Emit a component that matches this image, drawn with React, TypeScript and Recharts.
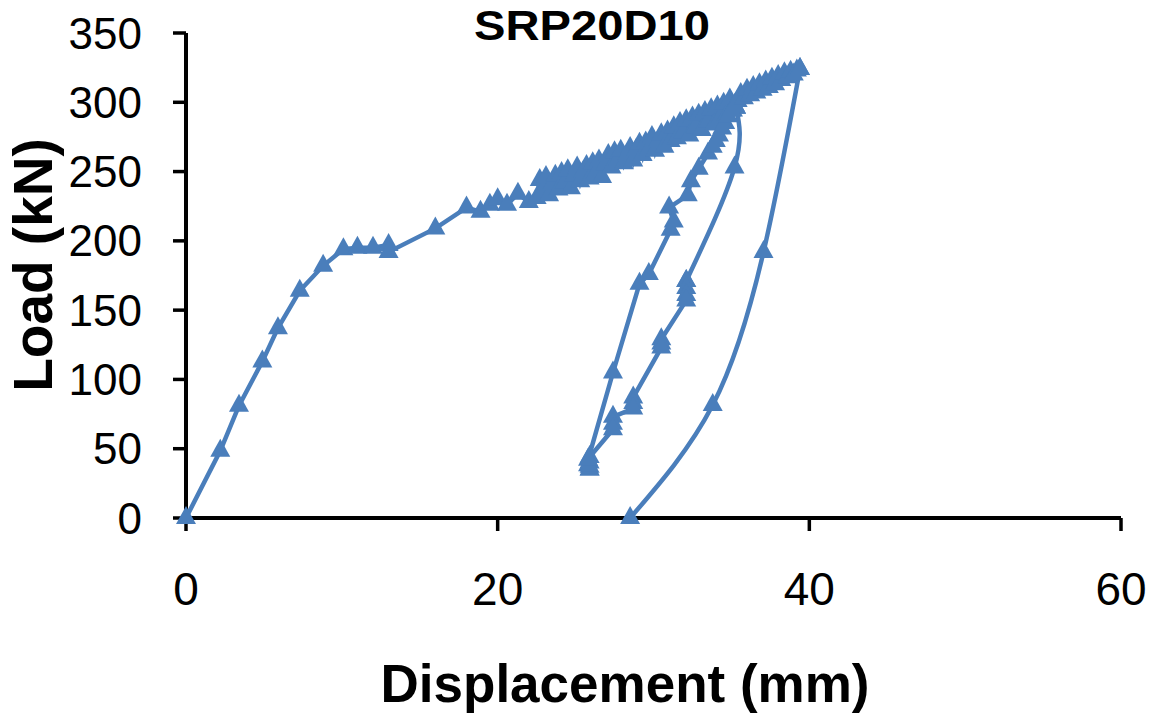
import { Line, LineChart, XAxis, YAxis } from "recharts";

const FONT = '"Liberation Sans", Arial, sans-serif';
const BLUE = "#4A7EBB";

// displacement (mm), load (kN)
const loading: [number, number][] = [
  [0, 0], [2.2, 48.5], [3.4, 81], [4.9, 113], [5.9, 137], [7.3, 164], [8.8, 182],
  [10.1, 194], [11.0, 195], [12.0, 195], [13.0, 197], [13.0, 192], [16.0, 209],
  [18.0, 224], [18.9, 221], [19.5, 226], [20.0, 230], [20.6, 226], [21.3, 234],
  [22.0, 228], [22.5, 231], [22.7, 244], [22.9, 236], [23.1, 246], [23.3, 233],
  [23.5, 241], [23.7, 247], [23.9, 237], [24.1, 249], [24.3, 242], [24.5, 251],
  [24.7, 238], [24.9, 247], [25.1, 253], [25.3, 243], [25.5, 250], [25.7, 254],
  [25.9, 245], [26.1, 256], [26.3, 249], [26.5, 258], [26.7, 246], [26.9, 255],
  [27.1, 262], [27.3, 253], [27.5, 264], [27.7, 258], [27.9, 265], [28.1, 256],
  [28.3, 262], [28.5, 267], [28.7, 258], [28.9, 266], [29.1, 270], [29.3, 262],
  [29.5, 271], [29.7, 266], [29.9, 275], [30.1, 265], [30.3, 272], [30.5, 277],
  [30.7, 268], [30.9, 279], [31.1, 272], [31.3, 282], [31.5, 274], [31.7, 285],
  [31.9, 278], [32.1, 287], [32.3, 276], [32.5, 289], [32.7, 282], [32.9, 291],
  [33.1, 280], [33.3, 293], [33.5, 286], [33.7, 295], [33.9, 284], [34.1, 297],
  [34.3, 289], [34.5, 299], [34.7, 291], [34.9, 302], [35.1, 294], [35.3, 296],
];

const unloading: [number, number][] = [
  [35.3, 296], [35.2, 253], [32.1, 171], [32.1, 166], [32.1, 161], [32.1, 157],
  [30.5, 129], [30.5, 126], [30.5, 123], [28.7, 87], [28.7, 83], [28.7, 79],
  [27.4, 73], [27.4, 68], [27.4, 64], [25.9, 44], [25.9, 40], [25.9, 37], [25.9, 35],
];

const reloading: [number, number][] = [
  [25.9, 35], [25.8, 38], [25.8, 42], [27.4, 105], [29.1, 169], [29.7, 176],
  [31.1, 208], [31.3, 214], [31.0, 224], [32.2, 233], [32.4, 243], [32.9, 252],
  [33.5, 263], [33.8, 268], [34.0, 272], [34.2, 276], [34.4, 281], [34.6, 285],
  [34.8, 290], [35.0, 294], [35.2, 298], [35.4, 301], [35.6, 306], [35.8, 303],
  [36.0, 309], [36.2, 305], [36.4, 311], [36.6, 307], [36.8, 313], [37.0, 309],
  [37.2, 315], [37.4, 311], [37.6, 317], [37.8, 313], [38.0, 319], [38.2, 316],
  [38.4, 321], [38.6, 318], [38.8, 322], [39.0, 320], [39.2, 323], [39.4, 324],
];

const finalUnloading: [number, number][] = [
  [39.4, 324], [37.06, 192], [33.8, 81.5], [28.5, 0],
];

const xTicks = [0, 20, 40, 60];
const yTicks = [0, 50, 100, 150, 200, 250, 300, 350];

const toPoints = (arr: [number, number][]) => arr.map(([x, y]) => ({ x, y }));

const triangle = (name: string) => (p: any) => {
  const { cx, cy, index } = p;
  if (cx == null || cy == null) return <g key={`${name}-${index}`} />;
  return (
    <polygon
      key={`${name}-${index}`}
      points={`${cx},${cy - 12} ${cx - 10},${cy + 6} ${cx + 10},${cy + 6}`}
      fill={BLUE}
      stroke="none"
    />
  );
};

const segments = [
  { name: "load", data: toPoints(loading), type: "linear" },
  { name: "unloadTop", data: toPoints(unloading.slice(0, 3)), type: "natural" },
  { name: "unload", data: toPoints(unloading.slice(2)), type: "linear" },
  { name: "reload", data: toPoints(reloading), type: "linear" },
  { name: "final", data: toPoints(finalUnloading), type: "natural" },
];

const YTitle = () => (
  <text
    x={52}
    y={265}
    transform="rotate(-90, 52, 265)"
    textAnchor="middle"
    fontFamily={FONT}
    fontWeight="bold"
    fontSize={55}
    fill="#000"
  >
    Load (kN)
  </text>
);

const XTitle = () => (
  <text
    x={625}
    y={702}
    textAnchor="middle"
    fontFamily={FONT}
    fontWeight="bold"
    fontSize={53}
    fill="#000"
  >
    Displacement (mm)
  </text>
);

export default function App() {
  return (
    <div style={{ position: "absolute", left: 0, top: 0, width: 1163, height: 717, background: "#fff" }}>
      <LineChart width={1163} height={717} margin={{ top: 33, right: 42, left: 0, bottom: 0 }}>
        <XAxis
          type="number"
          dataKey="x"
          domain={[0, 60]}
          ticks={xTicks}
          height={199}
          tickSize={13}
          tickMargin={41}
          axisLine={{ stroke: "#000", strokeWidth: 4 }}
          tickLine={{ stroke: "#000", strokeWidth: 3.5 }}
          tick={{ fill: "#000", fontSize: 46, fontFamily: FONT }}
          label={<XTitle />}
        />
        <YAxis
          type="number"
          dataKey="y"
          domain={[0, 350]}
          ticks={yTicks}
          width={186}
          tickSize={13}
          tickMargin={31}
          axisLine={{ stroke: "#000", strokeWidth: 4 }}
          tickLine={{ stroke: "#000", strokeWidth: 3.5 }}
          tick={{ fill: "#000", fontSize: 44, fontFamily: FONT }}
          label={<YTitle />}
        />
        {segments.map((s) => (
          <Line
            key={s.name}
            data={s.data}
            dataKey="y"
            type={s.type as any}
            stroke={BLUE}
            strokeWidth={4.5}
            dot={triangle(s.name)}
            activeDot={false}
            isAnimationActive={false}
          />
        ))}
      </LineChart>
      <svg width={1163} height={60} style={{ position: "absolute", left: 0, top: 0 }}>
        <text
          x={592}
          y={40}
          textAnchor="middle"
          fontFamily={FONT}
          fontWeight="bold"
          fontSize={42}
          textLength={236}
          lengthAdjust="spacingAndGlyphs"
          fill="#000"
        >
          SRP20D10
        </text>
      </svg>
    </div>
  );
}
